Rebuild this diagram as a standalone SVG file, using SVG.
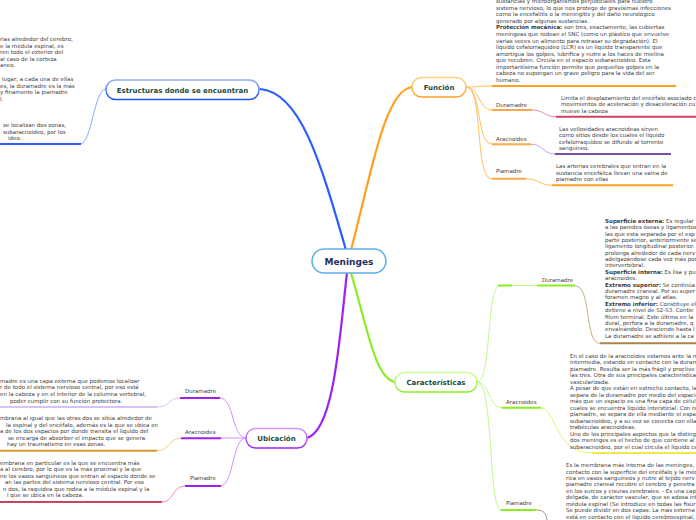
<svg xmlns="http://www.w3.org/2000/svg" width="696" height="520" viewBox="0 0 696 520">
<defs>
<linearGradient id="gBlue" x1="0" y1="0" x2="0" y2="1"><stop offset="0" stop-color="#8fb0ff"/><stop offset="1" stop-color="#1f50f0"/></linearGradient>
<linearGradient id="gOrange" x1="0" y1="0" x2="0" y2="1"><stop offset="0" stop-color="#ffd080"/><stop offset="1" stop-color="#ffa020"/></linearGradient>
<linearGradient id="gGreen" x1="0" y1="0" x2="0" y2="1"><stop offset="0" stop-color="#ccff99"/><stop offset="1" stop-color="#88ee22"/></linearGradient>
<linearGradient id="gPurple" x1="0" y1="0" x2="0" y2="1"><stop offset="0" stop-color="#d899ff"/><stop offset="1" stop-color="#a020f0"/></linearGradient>
</defs>
<style>
text { font-family: "DejaVu Sans", Verdana, sans-serif; }
.t { font-size: 5.5px; fill: #3c3c3c; }
.b { font-weight: bold; }
.h1 { font-size: 7px; font-weight: bold; fill: #1d4a3a; text-anchor: middle; }
.root { font-size: 9px; font-weight: bold; fill: #1f2d5c; text-anchor: middle; }
.node { fill: #ffffff; stroke-width: 1.5; }
.c { fill: none; stroke-width: 1; }
.u { fill: none; stroke-width: 2; }
.main { fill: none; stroke-width: 2.2; }
</style>
<rect width="696" height="520" fill="#ffffff"/>

<g id="connectors">
<path class="main" d="M346,250 C320,160 300,92 260,89" stroke="#2a5cff"/>
<path class="main" d="M351,250 C372,170 385,90 412,87" stroke="#ffa020"/>
<path class="main" d="M347,273 C340,330 335,430 307,438" stroke="#a020f0"/>
<path class="main" d="M351,273 C368,330 375,378 395,382" stroke="#88ee22"/>
<path class="c" d="M106,89 C94,89 92,144 80,144" stroke="#88aaff"/>
<path class="c" d="M466,87 C478,87 480,86 492,86" stroke="#ffc060"/>
<path class="c" d="M466,87 C480,87 478,110 492,110" stroke="#ffc060"/>
<path class="c" d="M466,87 C482,87 476,144 492,144" stroke="#ffc060"/>
<path class="c" d="M466,87 C484,87 474,179 492,179" stroke="#ffc060"/>
<path class="c" d="M532,110 C544,110 544,116.7 556,116.7" stroke="#e890a8"/>
<path class="c" d="M531,144.3 C543,144.3 543,154 555,154" stroke="#c0a8e0"/>
<path class="c" d="M526,178.7 C539,178.7 539,185.3 552,185.3" stroke="#ffc060"/>
<path class="c" d="M477,382 C492,382 486,285.5 500,285.5 L537,285.5" stroke="#c4f890"/>
<path class="c" d="M477,382 C490,382 488,407.7 502,407.7" stroke="#c4f890"/>
<path class="c" d="M477,382 C494,382 488,510 501,510" stroke="#c4f890"/>
<path class="c" d="M575,286 C592,286 584,343.3 600,343.3" stroke="#c8b088"/>
<path class="c" d="M541,408 C556,408 554,453 592,453" stroke="#f0ee70"/>
<path class="c" d="M537,510 C544,510 546,514 547,520" stroke="#999999"/>
<path class="c" d="M246,438 C232,438 234,398 220,398" stroke="#d090ff"/>
<path class="c" d="M246,438 L221,438" stroke="#d090ff"/>
<path class="c" d="M246,438 C232,438 234,486 220,486" stroke="#d090ff"/>
<path class="c" d="M180,398 C168,398 170,407 157,407" stroke="#dcc4f4"/>
<path class="c" d="M181,438.3 C168,438.3 170,450.7 157,450.7" stroke="#f0d080"/>
<path class="c" d="M185,486 C172,486 174,502 162,502" stroke="#f090a0"/>
</g>

<g id="root">
<rect class="node" x="312" y="249" width="74" height="24" rx="12" stroke="#5eaee8"/>
<text class="root" x="349" y="264.5">Meninges</text>
</g>

<g id="estructuras">
<rect class="node" x="106" y="80" width="153" height="19.5" rx="9.5" stroke="url(#gBlue)"/>
<text class="h1" x="182.5" y="92.5">Estructuras donde se encuentran</text>
</g>
<g id="estructuras-detalle">
<text class="t">
<tspan x="0" y="41">rias alrededor del cerebro,</tspan>
<tspan x="0" y="47.6">e la médula espinal, es</tspan>
<tspan x="0" y="54.2">ren todo el exterior del</tspan>
<tspan x="0" y="60.8">al caso de la corteza</tspan>
<tspan x="0" y="67.4">aneo.</tspan>
<tspan x="2" y="81">lugar; a cada una de ellas</tspan>
<tspan x="0" y="87.6">es, la duramadre es la más</tspan>
<tspan x="0" y="94.2">y finamente la piamadre</tspan>
<tspan x="0" y="100.8">l.</tspan>
<tspan x="3" y="127">se localizan dos zonas,</tspan>
<tspan x="3" y="133.6">subaracnoideo, por los</tspan>
<tspan x="8" y="140.2">ideo.</tspan>
</text>
<line class="u" x1="0" y1="144" x2="81" y2="144" stroke="#2a5cff"/>
</g>

<g id="funcion">
<rect class="node" x="412" y="77.5" width="54" height="19.5" rx="9.5" stroke="url(#gOrange)"/>
<text class="h1" x="439" y="90">Función</text>
</g>
<g id="funcion-detalle">
<text class="t">
<tspan x="496" y="3">sustancias y microorganismos perjudiciales para nuestro</tspan>
<tspan x="496" y="9.6">sistema nervioso, lo que nos protege de gravísimas infecciones</tspan>
<tspan x="496" y="16.2">como la encefalitis o la meningitis y del daño neurológico</tspan>
<tspan x="496" y="22.7">generado por algunas sustancias.</tspan>
<tspan x="496" y="29.3"><tspan class="b">Protección mecánica:</tspan> son tres, exactamente, las cubiertas</tspan>
<tspan x="496" y="35.9">meníngeas que rodean el SNC (como un plástico que envuelve</tspan>
<tspan x="496" y="42.5">varias veces un alimento para retrasar su degradación). El</tspan>
<tspan x="496" y="49.1">líquido cefalorraquídeo (LCR) es un líquido transparente que</tspan>
<tspan x="496" y="55.6">amortigua los golpes, lubrifica y nutre a los haces de mielina</tspan>
<tspan x="496" y="62.2">que recubren. Circula en el espacio subaracnoideo. Esta</tspan>
<tspan x="496" y="68.8">importantísima función permite que pequeños golpes en la</tspan>
<tspan x="496" y="75.4">cabeza no supongan un grave peligro para la vida del ser</tspan>
<tspan x="496" y="82">humano.</tspan>
</text>
<line class="u" x1="492" y1="86" x2="676" y2="86" stroke="#ffa020"/>
</g>
<g id="funcion-duramadre">
<text class="t" x="496" y="107">Duramadre</text>
<line class="u" x1="492" y1="110" x2="532" y2="110" stroke="#ffa84a"/>
</g>
<g id="funcion-duramadre-detalle">
<text class="t">
<tspan x="561" y="99.7">Limita el desplazamiento del encéfalo asociado c</tspan>
<tspan x="561" y="106.3">movimientos  de aceleración y desaceleración cu</tspan>
<tspan x="561" y="113">mueve la cabeza</tspan>
</text>
<line class="u" x1="556" y1="116.7" x2="696" y2="116.7" stroke="#d04060"/>
</g>
<g id="funcion-aracnoides">
<text class="t" x="496" y="141">Aracnoides</text>
<line class="u" x1="492" y1="144.3" x2="531" y2="144.3" stroke="#ffa84a"/>
</g>
<g id="funcion-aracnoides-detalle">
<text class="t">
<tspan x="559" y="131">Las vellosidades aracnoideas sirven</tspan>
<tspan x="559" y="137.3">como sitios desde los cuales el líquido</tspan>
<tspan x="559" y="143.6">cefalorraquídeo se difunde al torrente</tspan>
<tspan x="559" y="150">sanguíneo.</tspan>
</text>
<line class="u" x1="555" y1="154" x2="671" y2="154" stroke="#7b4fa5"/>
</g>
<g id="funcion-piamadre">
<text class="t" x="496" y="173">Piamadre</text>
<line class="u" x1="492" y1="178.7" x2="526" y2="178.7" stroke="#ffa84a"/>
</g>
<g id="funcion-piamadre-detalle">
<text class="t">
<tspan x="556" y="168">Las arterias cerebrales que entran en la</tspan>
<tspan x="556" y="174.7">sustancia encefálica llevan una vaina de</tspan>
<tspan x="556" y="181.3">piamadre con ellas</tspan>
</text>
<line class="u" x1="552" y1="185.3" x2="673" y2="185.3" stroke="#ffa020"/>
</g>

<g id="caracteristicas">
<rect class="node" x="395" y="372.5" width="82" height="19.5" rx="9.5" stroke="url(#gGreen)"/>
<text class="h1" x="436" y="385">Características</text>
</g>
<g id="car-duramadre">
<line class="u" x1="498" y1="285.5" x2="512" y2="285.5" stroke="#88ee22"/>
<text class="t" x="542" y="282">Duramadre</text>
<line class="u" x1="537" y1="285.5" x2="575" y2="285.5" stroke="#88ee22"/>
</g>
<g id="car-duramadre-detalle">
<text class="t">
<tspan x="605" y="222.7"><tspan class="b">Superficie externa:</tspan> Es regular</tspan>
<tspan x="605" y="229.1">a las paredes óseas y ligamentos</tspan>
<tspan x="605" y="235.5">las que está separada por el esp</tspan>
<tspan x="605" y="241.9">parte posterior, anteriormente se</tspan>
<tspan x="605" y="248.3">ligamento longitudinal posterior.</tspan>
<tspan x="605" y="254.7">prolonga alrededor de cada nerv</tspan>
<tspan x="605" y="261">adelgazándose cada vez más por</tspan>
<tspan x="605" y="267.4">intervertebral.</tspan>
<tspan x="605" y="273.8"><tspan class="b">Superficie interna:</tspan> Es lisa y pu</tspan>
<tspan x="605" y="280.2">aracnoides.</tspan>
<tspan x="605" y="286.6"><tspan class="b">Extremo superior:</tspan> Se continúa</tspan>
<tspan x="605" y="293">duramadre craneal. Por su super</tspan>
<tspan x="605" y="299.4">foramen magno y al atlas.</tspan>
<tspan x="605" y="305.8"><tspan class="b">Extremo inferior:</tspan> Constituye el</tspan>
<tspan x="605" y="312.2">detiene a nivel de S2-S3. Contie</tspan>
<tspan x="605" y="318.6">filum terminal. Este último en la</tspan>
<tspan x="605" y="325">dural, perfora a la duramadre, q</tspan>
<tspan x="605" y="331.3">envainándolo. Desciende hasta l</tspan>
<tspan x="605" y="337.7">La duramadre se adhiere a la ca</tspan>
</text>
<line class="u" x1="600" y1="343.3" x2="696" y2="343.3" stroke="#a8844e"/>
</g>
<g id="car-aracnoides">
<text class="t" x="506" y="403.7">Aracnoides</text>
<line class="u" x1="501.7" y1="407.7" x2="541" y2="407.7" stroke="#88ee22"/>
</g>
<g id="car-aracnoides-detalle">
<text class="t">
<tspan x="570" y="357.7">En el caso de la aracnoides estamos ante la m</tspan>
<tspan x="570" y="364.2">intermedia, estando en contacto con la duram</tspan>
<tspan x="570" y="370.7">piamadre. Resulta ser la más frágil y proclive</tspan>
<tspan x="570" y="377.2">las tres. Otra de sus principales característica</tspan>
<tspan x="570" y="383.7">vascularizada.</tspan>
<tspan x="570" y="390.2">A pesar de que están en estrecho contacto, la</tspan>
<tspan x="570" y="396.7">separa de la duramadre por medio del espacio</tspan>
<tspan x="570" y="403.2">más que un espacio es una fina capa de célul</tspan>
<tspan x="570" y="409.7">cuales se encuentra líquido intersticial. Con re</tspan>
<tspan x="570" y="416.2">piamadre, se separa de ella mediante el espa</tspan>
<tspan x="570" y="422.7">subaracnoideo, y a su vez se conecta con ella</tspan>
<tspan x="570" y="429.2">trabéculas aracnoideas.</tspan>
<tspan x="570" y="435.7">Uno de los principales aspectos que la disting</tspan>
<tspan x="570" y="442.2">dos meninges es el hecho de que contiene al</tspan>
<tspan x="570" y="448.7">subaracnoideo, por el cual circula el líquido ce</tspan>
</text>
<line class="u" x1="592" y1="453" x2="696" y2="453" stroke="#f0e848"/>
</g>
<g id="car-piamadre">
<text class="t" x="506" y="505.3">Piamadre</text>
<line class="u" x1="500.7" y1="510" x2="536.7" y2="510" stroke="#88ee22"/>
</g>
<g id="car-piamadre-detalle">
<text class="t">
<tspan x="566" y="467">Es la membrana más interna de las meninges,</tspan>
<tspan x="566" y="473.5">contacto con la superficie del encéfalo y la méd</tspan>
<tspan x="566" y="479.9">rica en vasos sanguíneos y nutre al tejido nerv</tspan>
<tspan x="566" y="486.4">piamadre craneal recubre el cerebro y penetra</tspan>
<tspan x="566" y="492.8">en los surcos y cisuras cerebrales. - Es una cap</tspan>
<tspan x="566" y="499.3">delgada, de carácter vascular, que se adosa ínt</tspan>
<tspan x="566" y="505.8">médula espinal (Se introduce en todas las fisur</tspan>
<tspan x="566" y="512.2">Se puede dividir en dos capas: La más externa</tspan>
<tspan x="566" y="518.7">está en contacto con el líquido cerebroespinal,</tspan>
</text>
</g>

<g id="ubicacion">
<rect class="node" x="246" y="428.5" width="61" height="19.5" rx="9.5" stroke="url(#gPurple)"/>
<text class="h1" x="276.5" y="441">Ubicación</text>
</g>
<g id="ubi-duramadre">
<text class="t" x="185" y="393">Duramadre</text>
<line class="u" x1="180" y1="398" x2="220" y2="398" stroke="#a020f0"/>
</g>
<g id="ubi-duramadre-detalle">
<text class="t">
<tspan x="0" y="382.7">madre es una capa externa que podemos localizar</tspan>
<tspan x="0" y="389.4">r de todo el sistema nervioso central, por eso está</tspan>
<tspan x="0" y="396.1">en la cabeza y en el interior de la columna vertebral,</tspan>
<tspan x="10" y="402.8">poder cumplir con su función protectora.</tspan>
</text>
<line class="u" x1="0" y1="407" x2="157" y2="407" stroke="#d8c2f0"/>
</g>
<g id="ubi-aracnoides">
<text class="t" x="185" y="433.7">Aracnoides</text>
<line class="u" x1="181" y1="438.3" x2="221" y2="438.3" stroke="#a020f0"/>
</g>
<g id="ubi-aracnoides-detalle">
<text class="t">
<tspan x="0" y="420.3">mbrana al igual que las otras dos se sitúa alrededor de</tspan>
<tspan x="6" y="426.8">la espinal y del encéfalo, además es la que se ubica en</tspan>
<tspan x="0" y="433.3">a de los dos espacios por donde transita el líquido del</tspan>
<tspan x="8" y="439.8">se encarga de absorber el impacto que se genera</tspan>
<tspan x="7" y="446.3">hay un traumatismo en esas zonas.</tspan>
</text>
<line class="u" x1="0" y1="450.7" x2="157" y2="450.7" stroke="#d09a30"/>
</g>
<g id="ubi-piamadre">
<text class="t" x="190" y="480.3">Piamadre</text>
<line class="u" x1="185" y1="486" x2="221" y2="486" stroke="#a020f0"/>
</g>
<g id="ubi-piamadre-detalle">
<text class="t">
<tspan x="0" y="464.7">embrana en particular es la que se encuentra más</tspan>
<tspan x="0" y="471.2">a al cerebro, por lo que es la más proximal y la que</tspan>
<tspan x="0" y="477.7">ne los vasos sanguíneos que entran al espacio donde se</tspan>
<tspan x="5" y="484.2">an las partes del sistema nervioso central. Por eso</tspan>
<tspan x="3" y="490.7">n dos, la raquidea que rodea a la médula espinal y la</tspan>
<tspan x="7" y="497.2">l que se ubica en la cabeza.</tspan>
</text>
<line class="u" x1="0" y1="502" x2="162" y2="502" stroke="#d04060"/>
</g>
</svg>
